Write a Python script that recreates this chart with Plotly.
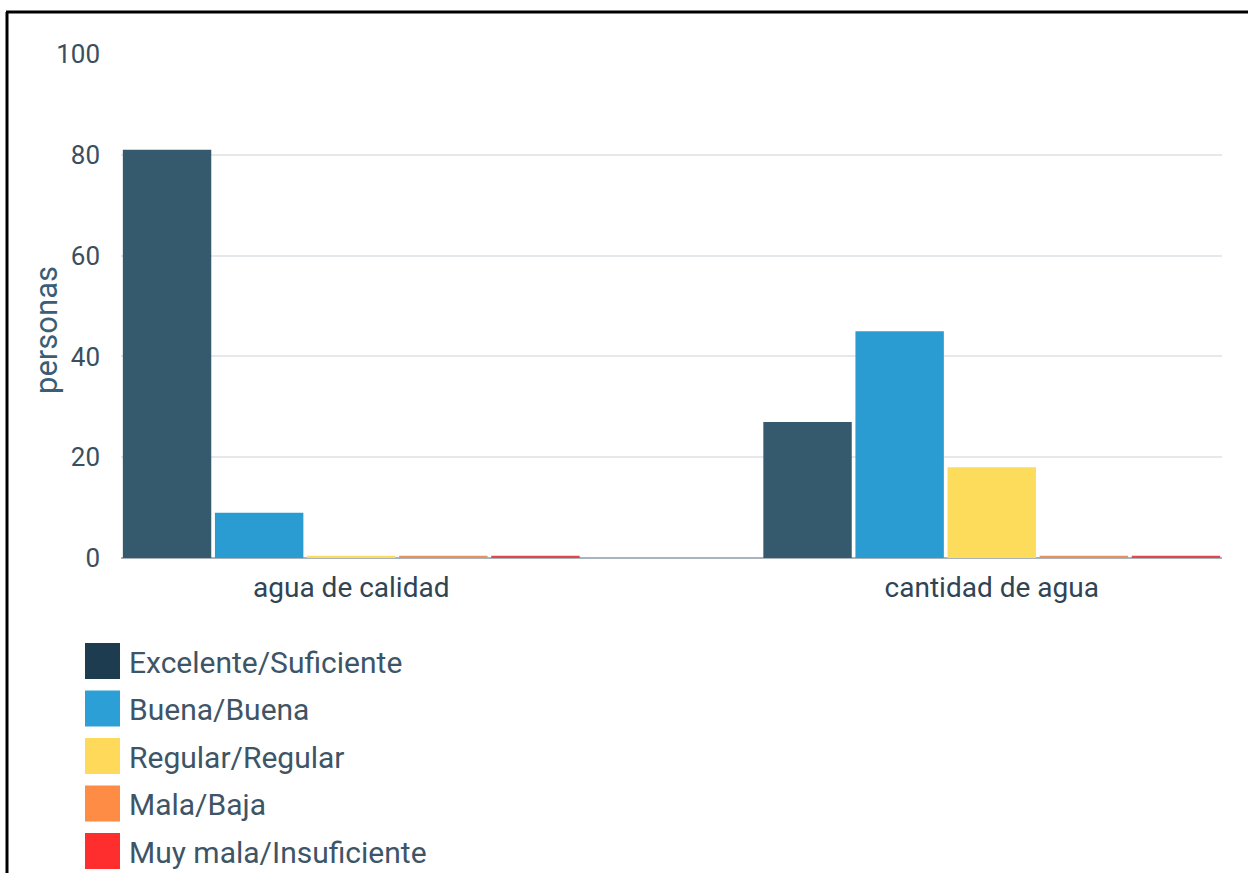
import plotly.graph_objects as go

categories = ["agua de calidad", "cantidad de agua"]
series_names = ["Excelente/Suficiente", "Buena/Buena", "Regular/Regular", "Mala/Baja", "Muy mala/Insuficiente"]
excelente = [81, 27]
buena = [9, 45]
regular = [0, 18]
mala = [0, 0]
muy_mala = [0, 0]
y_ticks = [0, 20, 40, 60, 80, 100]
y_title = "personas"

series_values = [excelente, buena, regular, mala, muy_mala]
bar_colors = ["#365a6d", "#2a9cd2", "#fddc5c", "#e8925a", "#e04848"]
legend_colors = ["#1e3c50", "#2c9fd6", "#ffda5a", "#ff8c45", "#ff2e2e"]

W, H = 1248, 873
L, R, T, B = 121, 26, 54, 315
pw, ph = W - L - R, H - T - B


def px(x):
    return (x - L) / pw


def py(y):
    return (H - B - y) / ph


MIN_VIS = 0.45  # minimum drawn height so zero bars show as thin lines

fig = go.Figure()
for name, vals, col in zip(series_names, series_values, bar_colors):
    fig.add_trace(go.Bar(
        x=[0, 1], y=[max(v, MIN_VIS) for v in vals], name=name,
        marker=dict(color=col, line=dict(width=0)),
        customdata=vals, hovertemplate="%{customdata}<extra>" + name + "</extra>",
        showlegend=False,
    ))

shapes = []
annotations = []
# frame lines (left and top)
shapes.append(dict(type="line", xref="paper", yref="paper", x0=px(7), x1=px(7), y0=py(12), y1=py(880),
                   line=dict(color="black", width=3)))
shapes.append(dict(type="line", xref="paper", yref="paper", x0=px(6), x1=px(1260), y0=py(12), y1=py(12),
                   line=dict(color="black", width=3)))

# y-axis title
annotations.append(dict(text=y_title, xref="paper", yref="paper", x=px(46), y=py(330),
                        xanchor="center", yanchor="middle", textangle=-90, showarrow=False,
                        font=dict(size=31, color="#3b5d75", family="Roboto")))

# custom legend
for i, (name, col) in enumerate(zip(series_names, legend_colors)):
    cy = 661 + i * 47.5
    shapes.append(dict(type="rect", xref="paper", yref="paper", x0=px(85), x1=px(120),
                       y0=py(cy - 18), y1=py(cy + 18), fillcolor=col, line=dict(width=0)))
    annotations.append(dict(text=name, xref="paper", yref="paper", x=px(127), y=py(cy + 1),
                            xanchor="left", yanchor="middle", showarrow=False,
                            font=dict(size=30, color="#3d5566", family="Roboto")))

fig.update_layout(
    width=W, height=H,
    margin=dict(l=L, r=R, t=T, b=B, autoexpand=False),
    paper_bgcolor="white", plot_bgcolor="white",
    barmode="group", bargap=0.281, bargroupgap=0.04,
    font=dict(family="Roboto", color="#2f4455"),
    showlegend=False,
    shapes=shapes, annotations=annotations,
    xaxis=dict(
        tickmode="array", tickvals=[0, 1], ticktext=categories,
        range=[-0.3595, 1.3595], showgrid=False, zeroline=False, showline=False,
        tickfont=dict(size=28, color="#2f4455"), ticks="", ticklabelstandoff=10,
    ),
    yaxis=dict(
        range=[0, 100], tickmode="array", tickvals=y_ticks,
        gridcolor="#e6e9ec", gridwidth=2, zeroline=True, zerolinecolor="#a9b3bc", zerolinewidth=2,
        showline=False, ticks="", ticklabelstandoff=20,
        tickfont=dict(size=26, color="#3a4e5e"),
    ),
)

fig.write_html("out.html")
